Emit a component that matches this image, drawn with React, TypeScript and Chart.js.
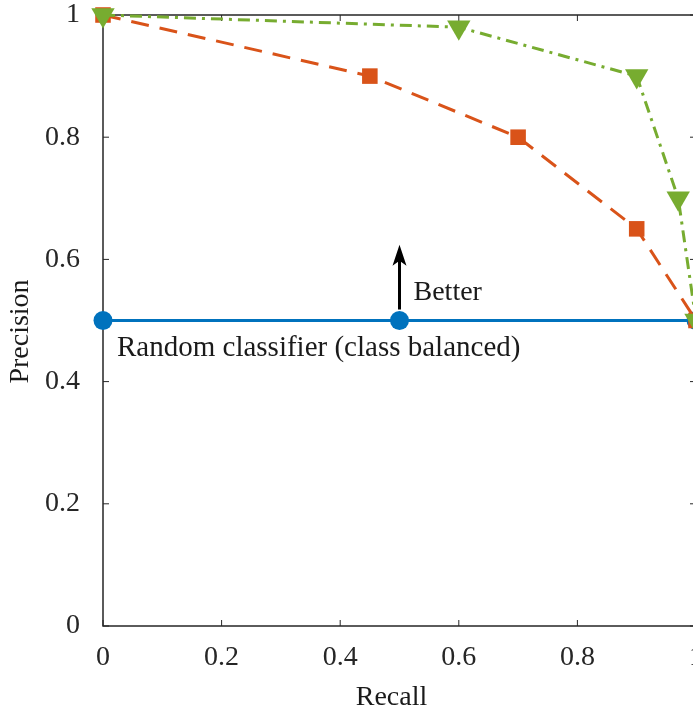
import React, { useEffect, useRef } from "react";
import { Chart, registerables } from "chart.js";

Chart.register(...registerables);

// ---- data ----
const randomX = [0, 0.5, 1];
const randomY = [0.5, 0.5, 0.5];
const orangeX = [0, 0.45, 0.7, 0.9, 1];
const orangeY = [1, 0.9, 0.8, 0.65, 0.5];
const greenX = [0, 0.6, 0.9, 0.97, 1];
const greenY = [1, 0.98, 0.9, 0.7, 0.5];
const tickValues = [0, 0.2, 0.4, 0.6, 0.8, 1];
const xTitle = "Recall";
const yTitle = "Precision";
const randomLabel = "Random classifier (class balanced)";
const betterLabel = "Better";
const arrowFrom = 0.5;
const arrowTo = 0.624;

const FONT = "'Liberation Serif', 'Times New Roman', serif";
const AXIS = "#262626";

const toPoints = (xs: number[], ys: number[]) => xs.map((x, i) => ({ x, y: ys[i] }));
const fmt = (v: number) => String(Number(Number(v).toFixed(1)));

const framePlugin = {
  id: "frame",
  beforeDatasetsDraw(chart: any) {
    const { ctx, chartArea, scales } = chart;
    const { left, right, top, bottom } = chartArea;
    ctx.save();
    ctx.strokeStyle = AXIS;
    ctx.lineWidth = 1.5;
    ctx.strokeRect(left, top, right - left, bottom - top);
    const tl = 6;
    ctx.beginPath();
    tickValues.forEach((v) => {
      const px = scales.x.getPixelForValue(v);
      ctx.moveTo(px, bottom);
      ctx.lineTo(px, bottom - tl);
      ctx.moveTo(px, top);
      ctx.lineTo(px, top + tl);
      const py = scales.y.getPixelForValue(v);
      ctx.moveTo(left, py);
      ctx.lineTo(left + tl, py);
      ctx.moveTo(right, py);
      ctx.lineTo(right - tl, py);
    });
    ctx.lineWidth = 1;
    ctx.stroke();
    ctx.restore();
  },
  afterDatasetsDraw(chart: any) {
    const { ctx, chartArea, scales } = chart;
    const x = scales.x;
    const y = scales.y;
    const x0 = x.getPixelForValue(0);
    const xm = x.getPixelForValue(0.5);
    const y05 = y.getPixelForValue(0.5);
    ctx.save();
    ctx.fillStyle = "#1a1a1a";
    ctx.textBaseline = "alphabetic";
    ctx.textAlign = "left";
    ctx.font = `29px ${FONT}`;
    ctx.fillText(randomLabel, x0 + 14, y05 + 35);
    ctx.font = `28px ${FONT}`;
    ctx.fillText(betterLabel, xm + 14, y05 - 21);

    // arrow
    const yStart = y.getPixelForValue(arrowFrom) - 11;
    const yTip = y.getPixelForValue(arrowTo);
    ctx.strokeStyle = "#000";
    ctx.fillStyle = "#000";
    ctx.lineWidth = 3;
    ctx.beginPath();
    ctx.moveTo(xm, yStart);
    ctx.lineTo(xm, yTip + 14);
    ctx.stroke();
    ctx.beginPath();
    ctx.moveTo(xm, yTip);
    ctx.lineTo(xm - 7, yTip + 21);
    ctx.lineTo(xm, yTip + 16);
    ctx.lineTo(xm + 7, yTip + 21);
    ctx.closePath();
    ctx.fill();

    // axis titles
    ctx.fillStyle = "#1a1a1a";
    ctx.textAlign = "center";
    ctx.fillText(xTitle, (chartArea.left + chartArea.right) / 2 - 8, chart.height - 7);
    ctx.translate(28, (chartArea.top + chartArea.bottom) / 2 + 11);
    ctx.rotate(-Math.PI / 2);
    ctx.fillText(yTitle, 0, 0);
    ctx.restore();
  },
};

export default function App() {
  const ref = useRef<HTMLCanvasElement | null>(null);
  useEffect(() => {
    if (!ref.current) return;
    const tickFont = { family: FONT, size: 28, lineHeight: 1 };
    const chart = new Chart(ref.current, {
      type: "scatter",
      data: {
        datasets: [
          {
            label: "Classifier B",
            data: toPoints(greenX, greenY),
            showLine: true,
            borderColor: "#77AC30",
            backgroundColor: "#77AC30",
            borderWidth: 3,
            borderDash: [12, 6, 3, 6],
            pointStyle: "triangle",
            pointRotation: 180,
            pointRadius: 13.5,
            pointBorderWidth: 0,
            pointBackgroundColor: "#77AC30",
            clip: false,
          } as any,
          {
            label: "Classifier A",
            data: toPoints(orangeX, orangeY),
            showLine: true,
            borderColor: "#D95319",
            backgroundColor: "#D95319",
            borderWidth: 3,
            borderDash: [18, 11],
            pointStyle: "rect",
            pointRadius: 11,
            pointBorderWidth: 0,
            pointBackgroundColor: "#D95319",
            clip: false,
          } as any,
          {
            label: "Random",
            data: toPoints(randomX, randomY),
            showLine: true,
            borderColor: "#0072BD",
            backgroundColor: "#0072BD",
            borderWidth: 3,
            pointStyle: "circle",
            pointRadius: 9.5,
            pointBorderWidth: 0,
            pointBackgroundColor: "#0072BD",
            clip: false,
          } as any,
        ],
      },
      options: {
        animation: false,
        responsive: false,
        maintainAspectRatio: false,
        devicePixelRatio: 1,
        layout: { autoPadding: false, padding: { left: 0, right: 24, top: 15, bottom: 0 } },
        plugins: { legend: { display: false }, tooltip: { enabled: false } },
        scales: {
          x: {
            type: "linear",
            min: 0,
            max: 1,
            grid: { display: false, drawTicks: false },
            border: { display: false },
            ticks: {
              stepSize: 0.2,
              font: tickFont,
              color: AXIS,
              padding: 18,
              maxRotation: 0,
              autoSkip: false,
              callback: (v: any) => fmt(v),
            },
            afterFit: (s: any) => {
              s.height = 86;
              s.paddingLeft = 0;
              s.paddingRight = 0;
            },
          },
          y: {
            type: "linear",
            min: 0,
            max: 1,
            grid: { display: false, drawTicks: false },
            border: { display: false },
            ticks: {
              stepSize: 0.2,
              font: tickFont,
              color: AXIS,
              padding: 23,
              autoSkip: false,
              callback: (v: any) => fmt(v),
            },
            afterFit: (s: any) => {
              s.width = 103;
              s.paddingTop = 0;
              s.paddingBottom = 0;
            },
          },
        },
      } as any,
      plugins: [framePlugin],
    });
    return () => chart.destroy();
  }, []);

  return (
    <div
      style={{
        position: "fixed",
        left: 0,
        top: 0,
        width: 693,
        height: 712,
        overflow: "hidden",
        background: "#fff",
      }}
    >
      <canvas ref={ref} width={720} height={712} style={{ display: "block" }} />
    </div>
  );
}
